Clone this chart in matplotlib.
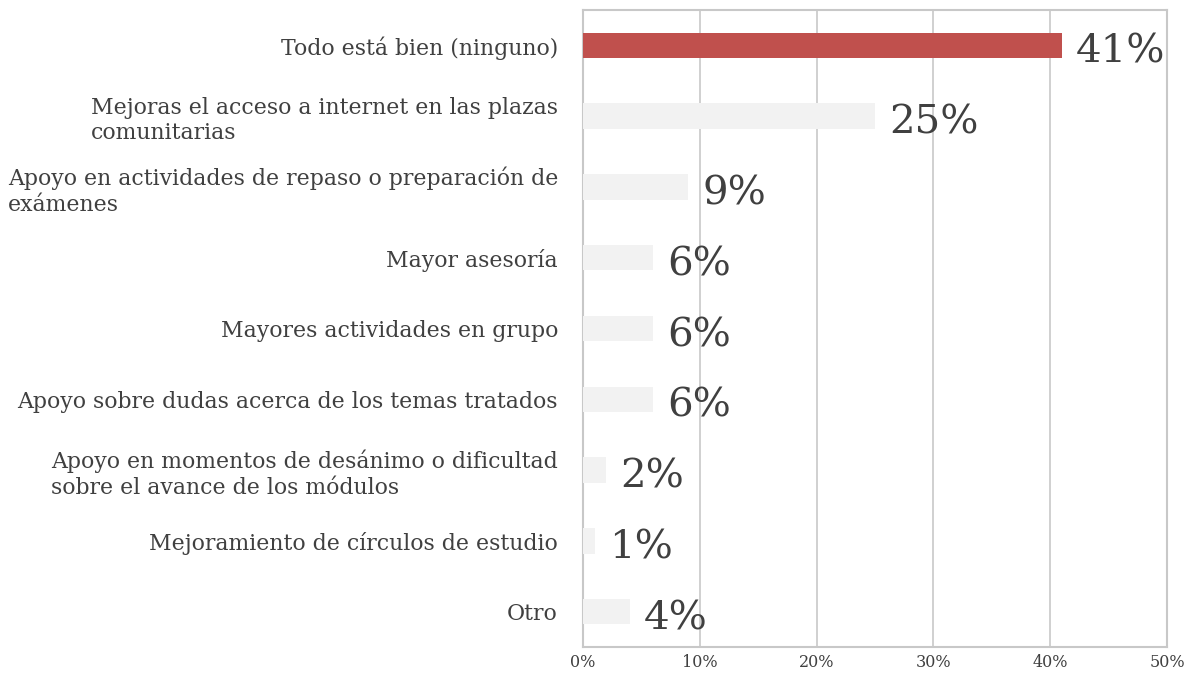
import matplotlib.pyplot as plt
import numpy as np

plt.rcParams['font.family'] = ['DejaVu Serif']

categories = [
    'Todo está bien (ninguno)',
    'Mejoras el acceso a internet en las plazas\ncomunitarias',
    'Apoyo en actividades de repaso o preparación de\nexámenes',
    'Mayor asesoría',
    'Mayores actividades en grupo',
    'Apoyo sobre dudas acerca de los temas tratados',
    'Apoyo en momentos de desánimo o dificultad\nsobre el avance de los módulos',
    'Mejoramiento de círculos de estudio',
    'Otro',
]
values = [41, 25, 9, 6, 6, 6, 2, 1, 4]
highlight = 0

red = '#C0504D'
grey = '#F2F2F2'
text_col = '#404040'
grid_col = '#C8C8C8'

fig = plt.figure(figsize=(11.9, 6.81), dpi=100)
ax = fig.add_axes([583 / 1190, 1 - 647 / 681, (1167 - 583) / 1190, (647 - 10) / 681])

y = np.arange(len(categories))
colors = [red if i == highlight else grey for i in range(len(categories))]
ax.barh(y, values, height=0.36, color=colors, zorder=3)

for yi, v in zip(y, values):
    ax.text(v + 1.2, yi + 0.1, f'{v}%', va='center', ha='left',
            fontsize=29, color=text_col, zorder=4)

ax.set_xlim(0, 50)
ax.set_ylim(len(categories) - 0.5, -0.5)
ax.set_xticks(np.arange(0, 51, 10))
ax.set_xticklabels([f'{t}%' for t in range(0, 51, 10)], fontsize=11.5, color=text_col)
ax.set_yticks(y)
ax.set_yticklabels(categories, fontsize=15.8, color=text_col)
for lbl in ax.get_yticklabels():
    lbl.set_multialignment('left')
ax.tick_params(axis='both', length=0)
ax.tick_params(axis='x', pad=5)
ax.tick_params(axis='y', pad=18)

ax.xaxis.grid(True, color=grid_col, linewidth=1.2, zorder=0)
for s in ax.spines.values():
    s.set_color(grid_col)
    s.set_linewidth(1.5)

fig.savefig('out.png', dpi=100)
